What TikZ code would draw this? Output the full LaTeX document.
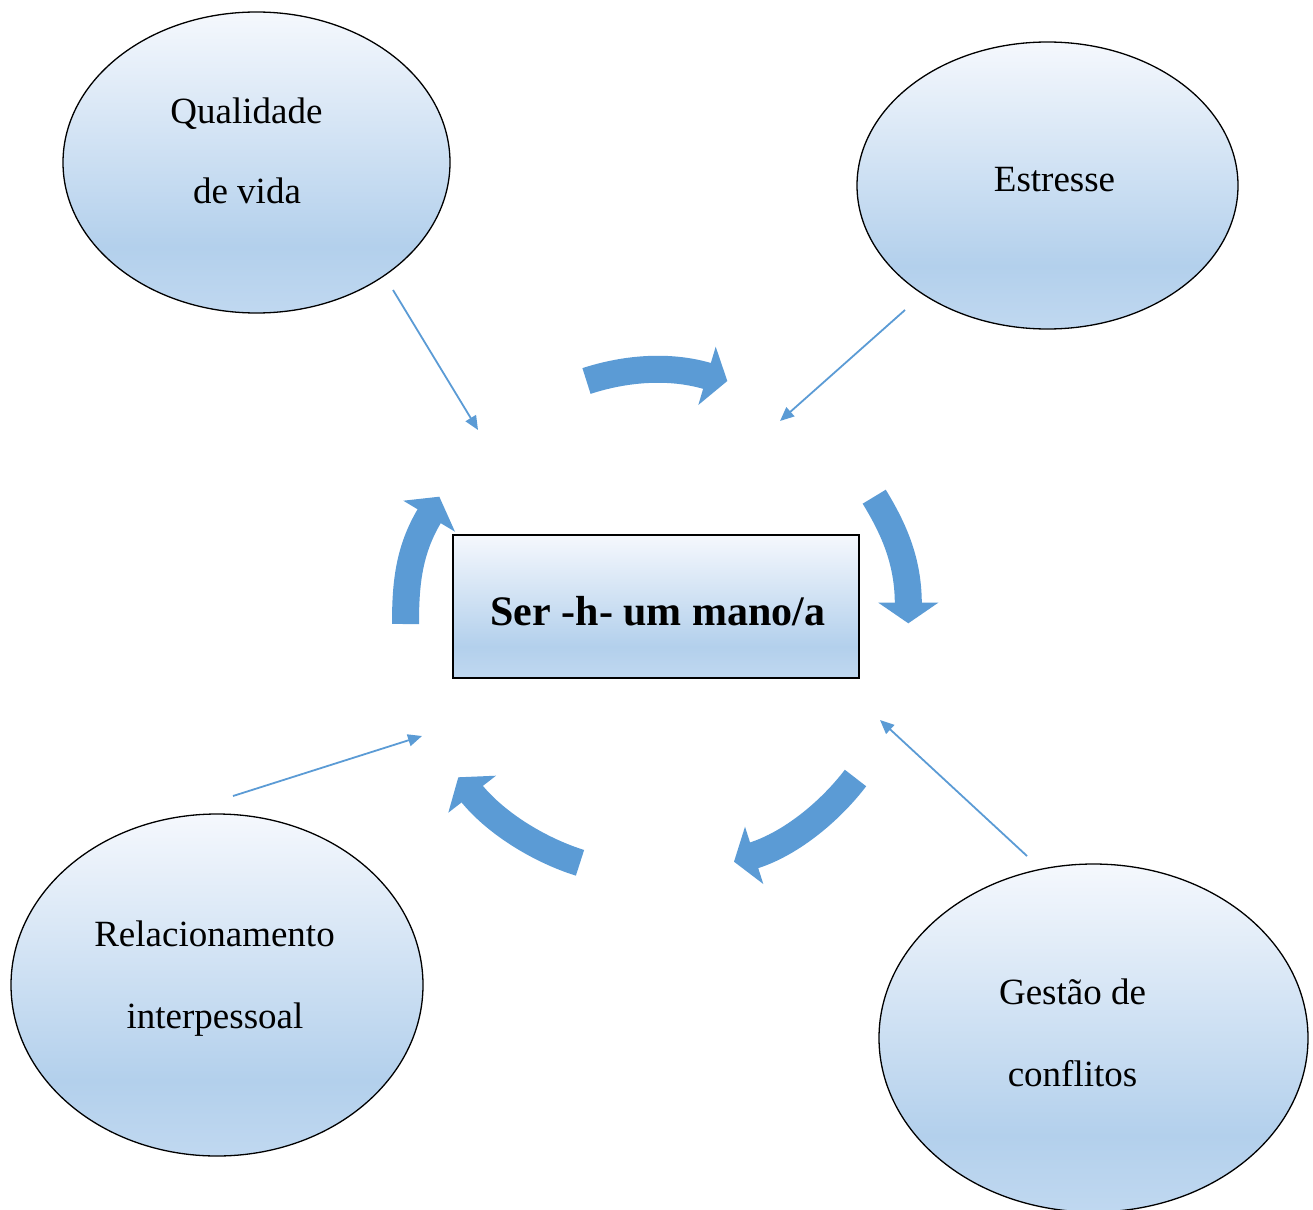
\documentclass[tikz,border=0pt]{standalone}
\usepackage{fontspec}
\setmainfont{Liberation Serif}
\usetikzlibrary{shapes.geometric,arrows.meta}
\definecolor{arrowblue}{RGB}{91,155,213}
\definecolor{gradtop}{RGB}{245,248,253}
\definecolor{gradmid}{RGB}{179,208,236}
\definecolor{gradbot}{RGB}{192,216,240}
\pgfdeclareverticalshading{softblue}{100bp}{color(0bp)=(gradbot); color(25bp)=(gradbot); color(36bp)=(gradmid); color(75bp)=(gradtop); color(100bp)=(gradtop)}
\tikzset{
  blob/.style={ellipse, draw=black, line width=1.3pt, shading=softblue, inner sep=0pt},
  centerbox/.style={rectangle, draw=black, line width=1.5pt, shading=softblue, inner sep=0pt},
  lbl/.style={font=\fontsize{37}{44}\selectfont, anchor=base, inner sep=0pt},
  thinarrow/.style={draw=arrowblue, line width=1.8pt, -{Triangle[length=14pt,width=12pt]}},
  bigshaft/.style={draw=arrowblue, line width=27pt, line cap=butt},
  bighead/.style={fill=arrowblue},
}
\begin{document}
\begin{tikzpicture}[x=1pt,y=-1pt]
\useasboundingbox (0,0) rectangle (1313,1209);

% ellipses
\node[blob, minimum width=387pt, minimum height=301pt] (e1) at (256.5,162.5) {};
\node[blob, minimum width=381pt, minimum height=287pt] (e2) at (1047.5,185.5) {};
\node[blob, minimum width=412pt, minimum height=342pt] (e3) at (217,985) {};
\node[blob, minimum width=429pt, minimum height=348pt] (e4) at (1093.5,1038) {};

% labels
\node[lbl] (t1a) at (246.5,123.5) {Qualidade};
\node[lbl] (t1b) at (247,203.5) {de vida};
\node[lbl] (t2) at (1054.5,191.7) {Estresse};
\node[lbl] (t3a) at (214.5,946.7) {Relacionamento};
\node[lbl] (t3b) at (215,1028.3) {interpessoal};
\node[lbl] (t4a) at (1072.5,1004.3) {Gestão de};
\node[lbl] (t4b) at (1072.5,1086) {conflitos};

% center box
\node[centerbox, minimum width=406pt, minimum height=143pt] (c) at (656,606.5) {};
\node[lbl, font=\fontsize{42}{50}\selectfont\bfseries] (ct) at (658,625) {Ser -h- um mano/a};

% thin arrows
\coordinate (a1s) at (393,290);  \coordinate (a1e) at (478,430);
\coordinate (a2s) at (905,310);  \coordinate (a2e) at (780,421);
\coordinate (a3s) at (233,796);  \coordinate (a3e) at (422,736);
\coordinate (a4s) at (1027,856); \coordinate (a4e) at (880,720);
\draw[thinarrow] (a1s) -- (a1e);
\draw[thinarrow] (a2s) -- (a2e);
\draw[thinarrow] (a3s) -- (a3e);
\draw[thinarrow] (a4s) -- (a4e);

% big curved arrows
% top
\coordinate (b1s) at (586.5,381); \coordinate (b1e) at (708,376.2);
\draw[bigshaft] (b1s) .. controls (624.5,368.6) and (668.6,364.5) .. (b1e);
\fill[bighead] (715.7,346.7) -- (727.3,381) -- (698.3,405) -- cycle;
% right
\coordinate (b2s) at (874.2,496.7); \coordinate (b2e) at (908.3,604);
\draw[bigshaft] (b2s) .. controls (895,530.7) and (908.3,562.7) .. (b2e);
\fill[bighead] (878.3,602.7) -- (908.3,623.3) -- (938.3,602.7) -- cycle;
% bottom right
\coordinate (b3s) at (855.5,778); \coordinate (b3e) at (753.2,855.6);
\draw[bigshaft] (b3s) .. controls (831.3,809.8) and (792.4,843.1) .. (b3e);
\fill[bighead] (745,826.7) -- (734,861.7) -- (763.3,884) -- cycle;
% bottom left
\coordinate (b4s) at (580,862.8); \coordinate (b4e) at (471.6,793.4);
\draw[bigshaft] (b4s) .. controls (541.8,850.9) and (497.6,825.1) .. (b4e);
\fill[bighead] (496,775.7) -- (458.3,777.3) -- (448.3,812.7) -- cycle;
% left
\coordinate (b5s) at (405.5,624); \coordinate (b5e) at (429.7,515.3);
\draw[bigshaft] (b5s) .. controls (405.5,584) and (408.6,550.5) .. (b5e);
\fill[bighead] (403.3,500.7) -- (439.3,496.7) -- (455,531.7) -- cycle;
\end{tikzpicture}
\end{document}
